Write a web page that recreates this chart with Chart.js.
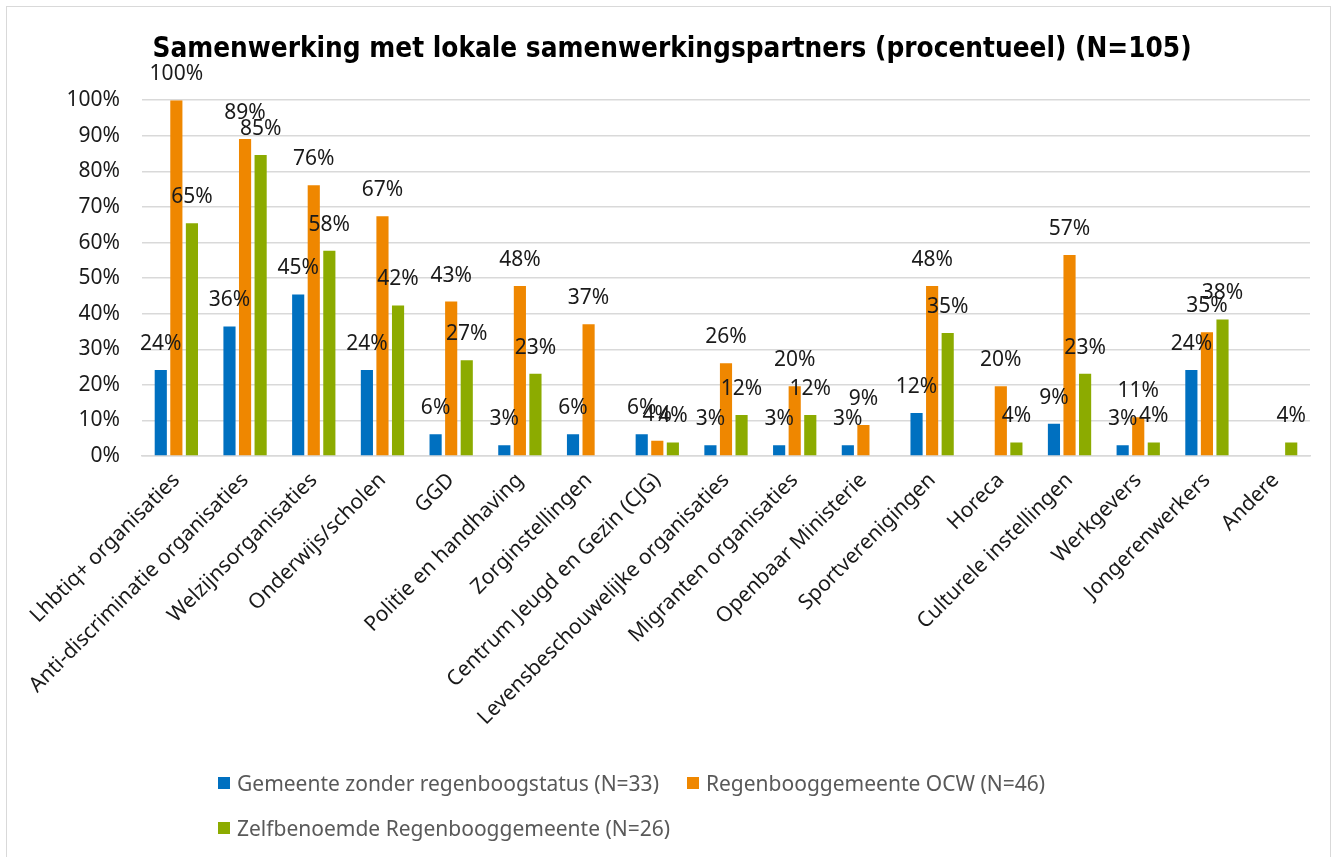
<!DOCTYPE html>
<html>
<head>
<meta charset="utf-8">
<script src="https://cdn.jsdelivr.net/npm/chart.js@4.4.0/dist/chart.umd.min.js"></script>
<style>
  html, body { margin: 0; padding: 0; background: #fff; }
  #wrap { position: relative; width: 1339px; height: 857px; overflow: hidden; }
  #frame { position: absolute; left: 6px; top: 6px; width: 1323px; height: 880px; border: 1px solid #d9d9d9; }
  #chart { position: absolute; left: 0; top: 0; }
  #legend { position: absolute; left: 218px; top: 760px; width: 1000px; font-family: 'Noto Sans', sans-serif; font-size: 21px; color: #595959; }
  .lg-row { height: 45px; display: flex; align-items: center; }
  .lg-item { display: flex; align-items: center; margin-right: 28px; }
  .lg-box { width: 12px; height: 12px; margin-right: 7px; }
</style>
</head>
<body>
<div id="wrap">
  <div id="frame"></div>
  <canvas id="chart" width="1339" height="857"></canvas>
  <div id="legend"></div>
</div>
<script>
// Categories and values (percent)
const categories = [
  'Lhbtiq+ organisaties', 'Anti-discriminatie organisaties', 'Welzijnsorganisaties',
  'Onderwijs/scholen', 'GGD', 'Politie en handhaving', 'Zorginstellingen',
  'Centrum Jeugd en Gezin (CJG)', 'Levensbeschouwelijke organisaties',
  'Migranten organisaties', 'Openbaar Ministerie', 'Sportverenigingen', 'Horeca',
  'Culturele instellingen', 'Werkgevers', 'Jongerenwerkers', 'Andere'
];
const seriesNames = [
  'Gemeente zonder regenboogstatus (N=33)',
  'Regenbooggemeente OCW (N=46)',
  'Zelfbenoemde Regenbooggemeente (N=26)'
];
const gemeenteZonder = [24.2, 36.4, 45.4, 24.2, 6.1, 3.0, 6.1, 6.1, 3.0, 3.0, 3.0, 12.1, 0, 9.1, 3.0, 24.2, 0];
const regenboogOCW = [100, 89.1, 76.1, 67.4, 43.4, 47.8, 37.0, 4.3, 26.1, 19.6, 8.7, 47.8, 19.6, 56.5, 10.9, 34.8, 0];
const zelfbenoemd = [65.4, 84.6, 57.7, 42.3, 26.9, 23.1, 0, 3.8, 11.5, 11.5, 0, 34.6, 3.8, 23.1, 3.8, 38.4, 3.8];
const yTicks = [0, 10, 20, 30, 40, 50, 60, 70, 80, 90, 100];

const colors = ['#0070c0', '#ef8700', '#8cab00'];
const seriesValues = [gemeenteZonder, regenboogOCW, zelfbenoemd];
const mainFont = "'Noto Sans', sans-serif";

// value labels drawn above each bar
const barLabels = {
  id: 'barLabels',
  afterDatasetsDraw(chart) {
    const ctx = chart.ctx;
    ctx.save();
    ctx.font = '21px ' + mainFont;
    ctx.fillStyle = '#1a1a1a';
    ctx.textAlign = 'center';
    ctx.textBaseline = 'middle';
    chart.data.datasets.forEach((ds, i) => {
      const meta = chart.getDatasetMeta(i);
      meta.data.forEach((bar, j) => {
        const v = ds.data[j];
        if (!v) return;
        ctx.fillText(Math.round(v) + '%', bar.x, bar.y - 26);
      });
    });
    ctx.restore();
  }
};

new Chart(document.getElementById('chart'), {
  type: 'bar',
  data: {
    labels: categories,
    datasets: seriesValues.map((vals, i) => ({
      label: seriesNames[i],
      data: vals,
      backgroundColor: colors[i],
      borderWidth: 0,
      categoryPercentage: 0.68,
      barPercentage: 0.78
    }))
  },
  options: {
    responsive: false,
    animation: false,
    layout: { padding: { left: 34, right: 29, top: 0, bottom: 101 } },
    plugins: {
      legend: { display: false },
      tooltip: { enabled: false },
      title: {
        display: true,
        text: 'Samenwerking met lokale samenwerkingspartners (procentueel) (N=105)',
        color: '#000',
        font: { family: "'DejaVu Sans Condensed', 'DejaVu Sans', sans-serif", size: 27.7, weight: 'bold' },
        padding: { top: 33, bottom: 34 }
      }
    },
    scales: {
      x: {
        grid: { display: false },
        border: { color: '#d9d9d9', width: 1.5 },
        ticks: {
          color: '#1a1a1a',
          font: { family: mainFont, size: 21 },
          minRotation: 45,
          maxRotation: 45,
          padding: 4
        },
        afterFit(scale) { scale.height = 300; }
      },
      y: {
        min: 0,
        max: 100,
        border: { display: false },
        grid: { color: '#d9d9d9', lineWidth: 1.5, drawTicks: false },
        afterBuildTicks(scale) { scale.ticks = yTicks.map(v => ({ value: v })); },
        ticks: {
          color: '#1a1a1a',
          font: { family: mainFont, size: 21 },
          padding: 22,
          callback: v => v + '%'
        },
        afterFit(scale) { scale.width = 108; }
      }
    }
  },
  plugins: [barLabels]
});

// legend laid out like the original (left aligned, two rows)
const legendEl = document.getElementById('legend');
const rows = [[0, 1], [2]];
rows.forEach(r => {
  const row = document.createElement('div');
  row.className = 'lg-row';
  r.forEach(i => {
    const item = document.createElement('div');
    item.className = 'lg-item';
    item.innerHTML = '<span class="lg-box" style="background:' + colors[i] + '"></span>' + seriesNames[i];
    row.appendChild(item);
  });
  legendEl.appendChild(row);
});
</script>
</body>
</html>
